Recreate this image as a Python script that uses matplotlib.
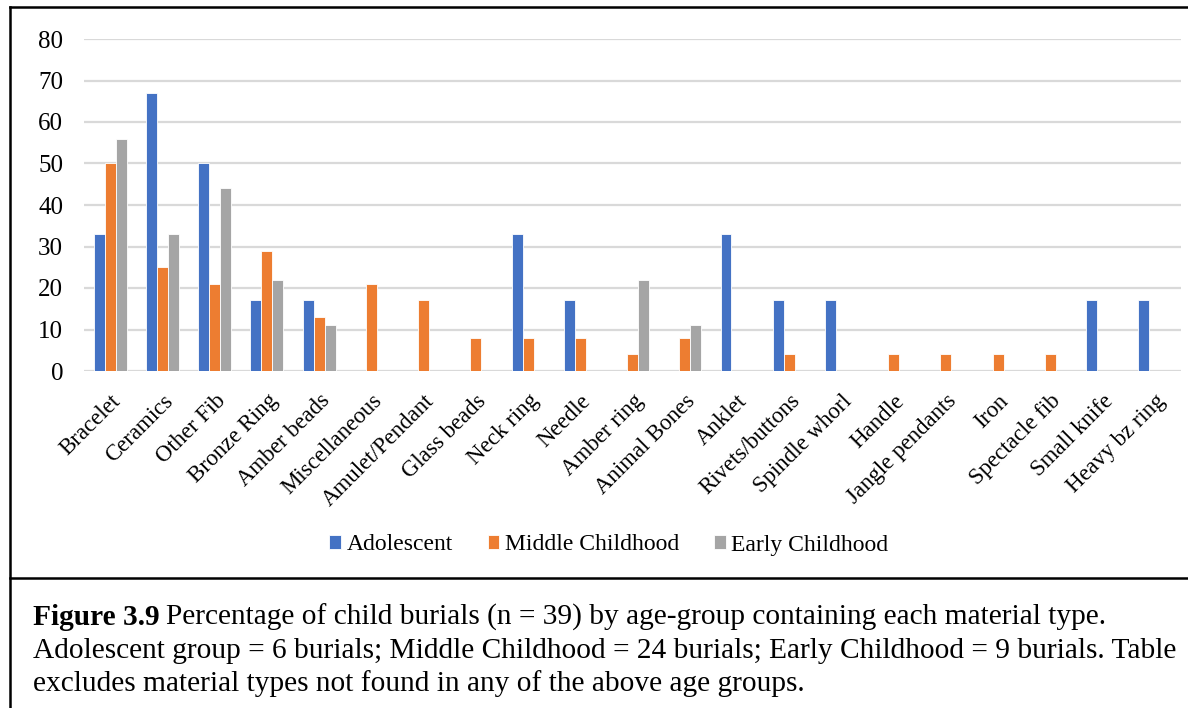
import matplotlib
matplotlib.use("Agg")
import matplotlib.pyplot as plt
import numpy as np
from matplotlib.lines import Line2D

materials = ["Bracelet", "Ceramics", "Other Fib", "Bronze Ring", "Amber beads",
             "Miscellaneous", "Amulet/Pendant", "Glass beads", "Neck ring", "Needle",
             "Amber ring", "Animal Bones", "Anklet", "Rivets/buttons", "Spindle whorl",
             "Handle", "Jangle pendants", "Iron", "Spectacle fib", "Small knife",
             "Heavy bz ring"]
adolescent = [33, 67, 50, 17, 17, 0, 0, 0, 33, 17, 0, 0, 33, 17, 17, 0, 0, 0, 0, 17, 17]
middle = [50, 25, 21, 29, 13, 21, 17, 8, 8, 8, 4, 8, 0, 4, 0, 4, 4, 4, 4, 0, 0]
early = [56, 33, 44, 22, 11, 0, 0, 0, 0, 0, 22, 11, 0, 0, 0, 0, 0, 0, 0, 0, 0]
series_names = ["Adolescent", "Middle Childhood", "Early Childhood"]
colors = ["#4472C4", "#ED7D31", "#A5A5A5"]

plt.rcParams["font.family"] = ["Liberation Serif", "DejaVu Serif"]

fig = plt.figure(figsize=(11.88, 7.08), dpi=100)
ax = fig.add_axes([84 / 1188, 1 - 371 / 708, (1181 - 84) / 1188, (371 - 39) / 708])

x = np.arange(len(materials))
w = 0.21
for i, (vals, name, c) in enumerate(zip([adolescent, middle, early], series_names, colors)):
    ax.bar(x + (i - 1) * w, vals, width=w, color=c, edgecolor="white",
           linewidth=0.6, label=name, zorder=3)

ax.set_xlim(-0.5, len(materials) - 0.5)
ax.set_ylim(0, 80)
ax.set_yticks(range(0, 81, 10))
ax.yaxis.grid(True, color="#D9D9D9", linewidth=1.6, zorder=0)
ax.set_axisbelow(True)
for s in ax.spines.values():
    s.set_visible(False)
ax.tick_params(axis="y", length=0, labelsize=18, pad=15)
ax.set_xticks(x)
ax.set_xticklabels(materials, rotation=45, ha="right", rotation_mode="anchor")
ax.tick_params(axis="x", length=0, labelsize=16.5, pad=14)

leg = fig.legend(loc="center", bbox_to_anchor=(609 / 1188, 1 - 545 / 708), ncol=3,
                 frameon=False, fontsize=17, handlelength=0.5, handleheight=0.5,
                 handletextpad=0.25, columnspacing=1.45)

# chart box and caption box borders
def fig_line(xs, ys):
    fig.add_artist(Line2D(xs, ys, transform=fig.transFigure, color="black",
                          linewidth=1.8))

fig_line([10 / 1188, 1.0], [1 - 7 / 708, 1 - 7 / 708])
fig_line([10 / 1188, 10 / 1188], [0, 1 - 7 / 708])
fig_line([10 / 1188, 1.0], [1 - 578 / 708, 1 - 578 / 708])

# caption
cap_x = 33 / 1188
lines_y = [1 - 625 / 708, 1 - 658 / 708, 1 - 691 / 708]
t1 = fig.text(cap_x, lines_y[0], "Figure 3.9", fontsize=21.2, fontweight="bold",
              va="baseline")
fig.canvas.draw()
bb = t1.get_window_extent(renderer=fig.canvas.get_renderer())
x2 = (bb.x1 + 6) / fig.bbox.width
fig.text(x2, lines_y[0], "Percentage of child burials (n = 39) by age-group containing each material type.",
         fontsize=21.2, va="baseline")
fig.text(cap_x, lines_y[1], "Adolescent group = 6 burials; Middle Childhood = 24 burials; Early Childhood = 9 burials. Table",
         fontsize=21.2, va="baseline")
fig.text(cap_x, lines_y[2], "excludes material types not found in any of the above age groups.",
         fontsize=21.2, va="baseline")

fig.savefig("out.png", dpi=100)
